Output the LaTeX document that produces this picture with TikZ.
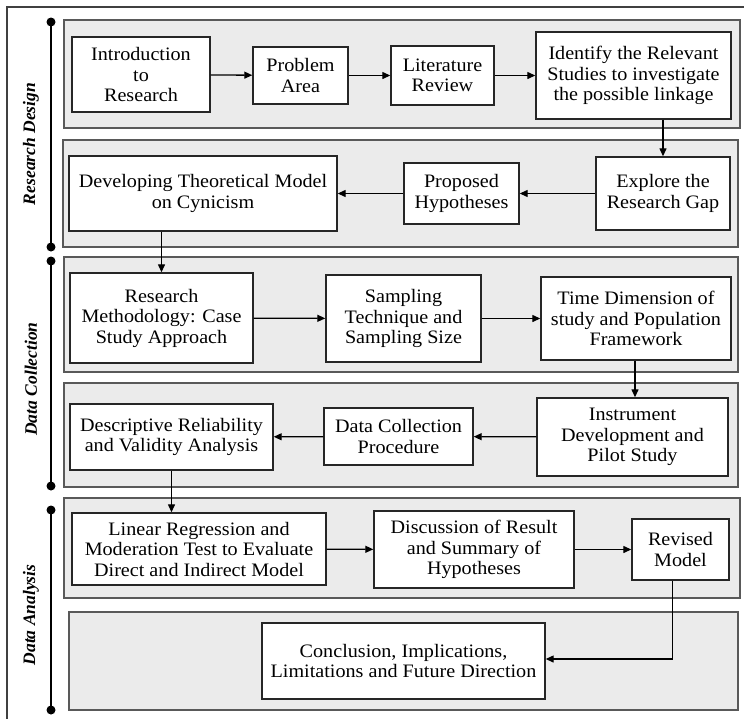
\documentclass[tikz,border=0pt]{standalone}
\usepackage{fontspec}
\setmainfont{Liberation Serif}
\newfontfamily\boxfont[FakeStretch=1.06]{Liberation Serif}
\usetikzlibrary{arrows.meta}
\begin{document}
\begin{tikzpicture}[x=1pt,y=-1pt,
  panel/.style={draw=black!65,fill=black!8,line width=1.5pt},
  box/.style={draw=black!85,fill=white,line width=1.4pt,align=center,inner sep=0pt,
    font=\boxfont\fontsize{19}{20.5}\selectfont},
  conn/.style={line width=1.3pt,draw=black,-{Triangle[length=8pt,width=7pt]}},
  phase/.style={rotate=90,font=\fontsize{17.5}{20}\selectfont\bfseries\itshape},
  tl/.style={line width=2pt,black},
  dot/.style={fill=black}]
\useasboundingbox (0,0) rectangle (744,718);
% outer frame
\draw[draw=black!75,line width=1.3pt] (7,730) -- (7,7) -- (760,7);
% panels
\draw[panel] (64,20) rectangle (740,128);
\draw[panel] (63,140) rectangle (738,247);
\draw[panel] (64,257) rectangle (738,372);
\draw[panel] (64,383) rectangle (738,487);
\draw[panel] (64,498) rectangle (740,598);
\draw[panel] (69,612) rectangle (738,710);
% timelines
\draw[tl] (51,22) -- (51,247);
\fill[dot] (51,22) circle (4.5) (51,247) circle (4.5);
\draw[tl] (51,261) -- (51,486);
\fill[dot] (51,261) circle (4.5) (51,486) circle (4.5);
\draw[tl] (51,510) -- (51,710);
\fill[dot] (51,510) circle (4.5) (51,710) circle (4.5);
\node[phase] (p1) at (31,144) {Research Design};
\node[phase] (p2) at (31,379) {Data Collection};
\node[phase] (p3) at (31,615) {Data Analysis};
% boxes
\node[box,minimum width=138,minimum height=75] (b1) at (141,74.5) {Introduction\\to\\Research};
\node[box,minimum width=95,minimum height=57] (b2) at (300.5,75.5) {Problem\\Area};
\node[box,minimum width=103,minimum height=59] (b3) at (442.5,75.5) {Literature\\Review};
\node[box,minimum width=195,minimum height=87] (b4) at (633.5,75.5) {Identify the Relevant\\Studies to investigate\\the possible linkage};
\node[box,minimum width=134,minimum height=73] (b5) at (663,193.5) {Explore the\\Research Gap};
\node[box,minimum width=115,minimum height=61] (b6) at (461.5,193.5) {Proposed\\Hypotheses};
\node[box,minimum width=268,minimum height=75] (b7) at (203,193.5) {Developing Theoretical Model\\on Cynicism};
\node[box,minimum width=183,minimum height=90] (b8) at (161.5,318) {Research\\Methodology: Case\\Study Approach};
\node[box,minimum width=155,minimum height=87] (b9) at (403.5,318.5) {Sampling\\Technique and\\Sampling Size};
\node[box,minimum width=190,minimum height=83] (b10) at (636,318.5) {Time Dimension of\\study and Population\\Framework};
\node[box,minimum width=191,minimum height=78] (b11) at (632.5,437) {Instrument\\Development and\\Pilot Study};
\node[box,minimum width=149,minimum height=57] (b12) at (398.5,436.5) {Data Collection\\Procedure};
\node[box,minimum width=203,minimum height=66] (b13) at (171.5,437) {Descriptive Reliability\\and Validity Analysis};
\node[box,minimum width=254,minimum height=72] (b14) at (199,549) {Linear Regression and\\Moderation Test to Evaluate\\Direct and Indirect Model};
\node[box,minimum width=200,minimum height=77] (b15) at (474,549.5) {Discussion of Result\\and Summary of\\Hypotheses};
\node[box,minimum width=97,minimum height=61] (b16) at (680.5,549.5) {Revised\\Model};
\node[box,minimum width=283,minimum height=76] (b17) at (403.5,661) {Conclusion, Implications,\\Limitations and Future Direction};
% connectors
\draw[conn] (b1) -- (b2);
\draw[conn] (b2) -- (b3);
\draw[conn] (b3) -- (b4);
\draw[conn] (b4.south -| b5.north) -- (b5.north);
\draw[conn] (b5) -- (b6);
\draw[conn] (b6) -- (b7);
\draw[conn] (b7.south -| b8.north) -- (b8.north);
\draw[conn] (b8) -- (b9);
\draw[conn] (b9) -- (b10);
\draw[conn] ([xshift=-1]b10.south) -- ([xshift=-1]b10.south |- b11.north);
\draw[conn] (b11) -- (b12);
\draw[conn] (b12) -- (b13);
\draw[conn] (b13.south) -- (b13.south |- b14.north);
\draw[conn] (b14) -- (b15);
\draw[conn] (b15) -- (b16);
\draw[conn] ([xshift=-8]b16.south) |- ([yshift=2]b17.east);
\end{tikzpicture}
\end{document}
